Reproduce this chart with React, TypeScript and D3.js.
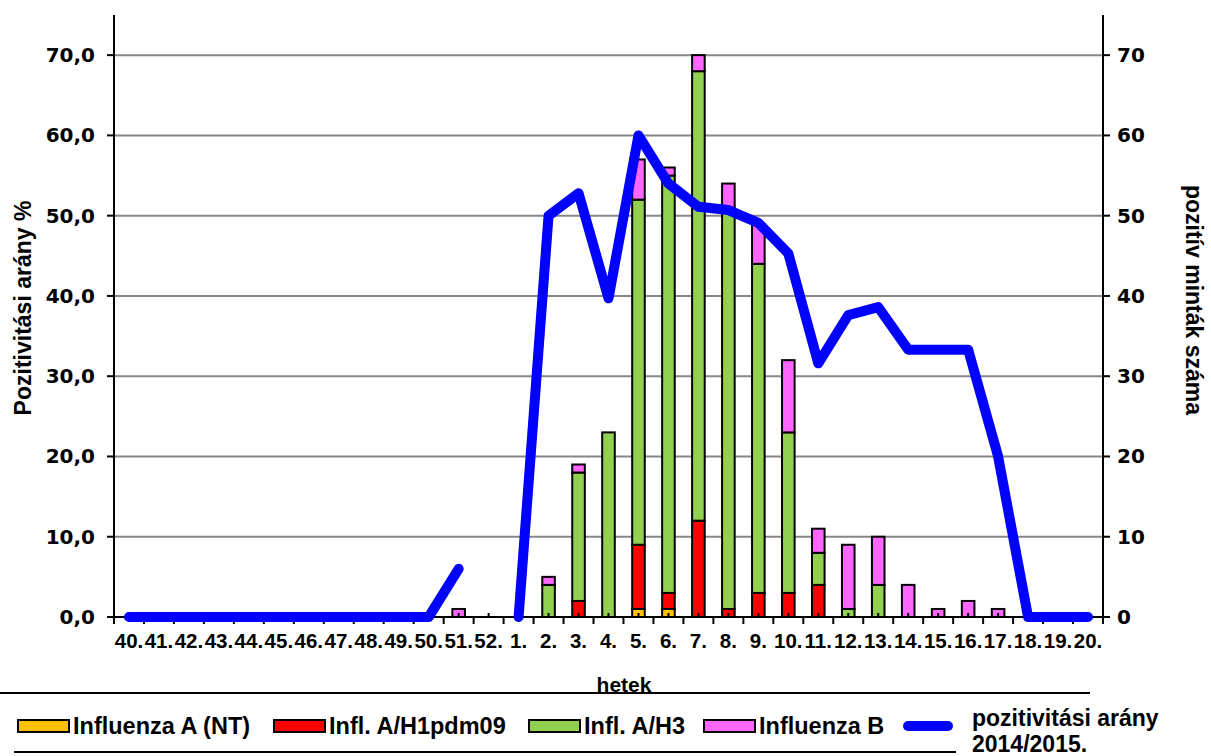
import React from 'react';
import * as d3 from 'd3';

// hetek (40. hét 2014 – 20. hét 2015)
const weeks = [
  '40.', '41.', '42.', '43.', '44.', '45.', '46.', '47.', '48.', '49.', '50.', '51.', '52.',
  '1.', '2.', '3.', '4.', '5.', '6.', '7.', '8.', '9.', '10.',
  '11.', '12.', '13.', '14.', '15.', '16.', '17.', '18.', '19.', '20.',
];

// pozitív minták száma (jobb tengely)
const influenzaNT = [0, 0, 0, 0, 0, 0, 0, 0, 0, 0, 0, 0, 0, 0, 0, 0, 0, 1, 1, 0, 0, 0, 0, 0, 0, 0, 0, 0, 0, 0, 0, 0, 0];
const h1pdm09 = [0, 0, 0, 0, 0, 0, 0, 0, 0, 0, 0, 0, 0, 0, 0, 2, 0, 8, 2, 12, 1, 3, 3, 4, 0, 0, 0, 0, 0, 0, 0, 0, 0];
const h3 = [0, 0, 0, 0, 0, 0, 0, 0, 0, 0, 0, 0, 0, 0, 4, 16, 23, 43, 52, 56, 50, 41, 20, 4, 1, 4, 0, 0, 0, 0, 0, 0, 0];
const influenzaB = [0, 0, 0, 0, 0, 0, 0, 0, 0, 0, 0, 1, 0, 0, 1, 1, 0, 5, 1, 2, 3, 5, 9, 3, 8, 6, 4, 1, 2, 1, 0, 0, 0];

// pozitivitási arány % (bal tengely), 52. hét hiányzik
const positivity: (number | null)[] = [
  0, 0, 0, 0, 0, 0, 0, 0, 0, 0, 0, 6, null,
  0, 50, 52.8, 39.7, 60, 54, 51.1, 50.7, 49.1, 45.3,
  31.6, 37.6, 38.6, 33.3, 33.3, 33.3, 20, 0, 0, 0,
];

const leftTicks = [0, 10, 20, 30, 40, 50, 60, 70];
const rightTicks = [0, 10, 20, 30, 40, 50, 60, 70];

const seriesKeys = ['nt', 'h1', 'h3', 'b'];
const seriesNames = ['Influenza A (NT)', 'Infl. A/H1pdm09', 'Infl. A/H3', 'Influenza B'];
const seriesColors = ['#FFC000', '#FF0000', '#92D050', '#FF66FF'];
const lineColor = '#0000FF';

const W = 1211;
const H = 756;
const plot = { left: 114, right: 1103, top: 15, bottom: 617 };
const font = '"Liberation Sans", Arial, sans-serif';
const tickFont = '"DejaVu Sans", Verdana, sans-serif';

export default function App() {
  const x = d3.scaleBand<string>().domain(weeks).range([plot.left, plot.right]).padding(0);
  const yLeft = d3.scaleLinear().domain([0, 75]).range([plot.bottom, plot.top]);
  const yRight = d3.scaleLinear().domain([0, 75]).range([plot.bottom, plot.top]);
  const barW = x.step() * 0.42;

  const rows = weeks.map((w, i) => ({
    week: w,
    nt: influenzaNT[i],
    h1: h1pdm09[i],
    h3: h3[i],
    b: influenzaB[i],
  }));
  const stacked = d3.stack<(typeof rows)[number]>().keys(seriesKeys)(rows);

  // hetek, amikor volt mintavétel (első és utolsó pozitív hét között)
  const totals = rows.map((r) => r.nt + r.h1 + r.h3 + r.b);
  const firstIdx = totals.findIndex((t) => t > 0);
  const lastIdx = totals.length - 1 - [...totals].reverse().findIndex((t) => t > 0);

  const line = d3
    .line<number | null>()
    .defined((d) => d !== null)
    .x((_, i) => (x(weeks[i]) as number) + x.bandwidth() / 2)
    .y((d) => yLeft(d as number));

  const fmtLeft = (d: number) => d.toFixed(1).replace('.', ',');

  // jelmagyarázat elemek helye
  const legendX = [18, 274, 529, 704];
  const legendY = 726;

  return (
    <svg width={W} height={H} style={{ position: 'absolute', left: 0, top: 0, background: '#fff' }}>
      {/* rácsvonalak */}
      {leftTicks.slice(1).map((t) => (
        <line key={t} x1={plot.left} x2={plot.right} y1={yLeft(t)} y2={yLeft(t)} stroke="#878787" strokeWidth={2} />
      ))}

      {/* tengelyek */}
      <line x1={plot.left} x2={plot.left} y1={plot.top} y2={plot.bottom + 1} stroke="#000" strokeWidth={2} />
      <line x1={plot.right} x2={plot.right} y1={plot.top} y2={plot.bottom + 1} stroke="#000" strokeWidth={2} />
      <line x1={plot.left} x2={plot.right} y1={plot.bottom} y2={plot.bottom} stroke="#000" strokeWidth={2} />
      {leftTicks.map((t) => (
        <g key={t}>
          <line x1={plot.left - 7} x2={plot.left} y1={yLeft(t)} y2={yLeft(t)} stroke="#000" strokeWidth={2} />
          <text
            x={plot.left - 19}
            y={yLeft(t)}
            textAnchor="end"
            dominantBaseline="central"
            fontFamily={tickFont}
            fontWeight="bold"
            fontSize={20}>
            {fmtLeft(t)}
          </text>
        </g>
      ))}
      {rightTicks.map((t) => (
        <g key={t}>
          <line x1={plot.right} x2={plot.right + 7} y1={yRight(t)} y2={yRight(t)} stroke="#000" strokeWidth={2} />
          <text
            x={plot.right + 14}
            y={yRight(t)}
            dominantBaseline="central"
            fontFamily={tickFont}
            fontWeight="bold"
            fontSize={20}>
            {t}
          </text>
        </g>
      ))}
      {d3.range(weeks.length + 1).map((i) => {
        const xx = plot.left + i * x.step();
        return <line key={i} x1={xx} x2={xx} y1={plot.bottom} y2={plot.bottom + 7} stroke="#000" strokeWidth={2} />;
      })}
      {weeks.map((w) => (
        <text
          key={w}
          x={(x(w) as number) + x.bandwidth() / 2}
          y={648}
          textAnchor="middle"
          fontFamily={font}
          fontWeight="bold"
          fontSize={20.5}>
          {w}
        </text>
      ))}

      {/* tengelyfeliratok */}
      <text
        transform={`translate(31, 308) rotate(-90)`}
        textAnchor="middle"
        fontFamily={font}
        fontWeight="bold"
        fontSize={23}>
        Pozitivitási arány %
      </text>
      <text
        transform={`translate(1186, 300) rotate(90)`}
        textAnchor="middle"
        fontFamily={font}
        fontWeight="bold"
        fontSize={23}>
        pozitív minták száma
      </text>

      {/* oszlopok */}
      {stacked.map((s, si) =>
        s.map((d, i) =>
          d[1] - d[0] > 0 ? (
            <rect
              key={`${si}-${i}`}
              x={(x(weeks[i]) as number) + (x.bandwidth() - barW) / 2}
              y={yRight(d[1])}
              width={barW}
              height={yRight(d[0]) - yRight(d[1])}
              fill={seriesColors[si]}
              stroke="#000"
              strokeWidth={2}
            />
          ) : null,
        ),
      )}
      {/* nulla értékű jelek a mintavételi heteken */}
      {weeks.map((w, i) =>
        i >= firstIdx && i <= lastIdx ? (
          <line
            key={w}
            x1={(x(w) as number) + x.bandwidth() / 2}
            x2={(x(w) as number) + x.bandwidth() / 2}
            y1={plot.bottom}
            y2={plot.bottom - 4}
            stroke="#000"
            strokeWidth={2}
          />
        ) : null,
      )}

      {/* pozitivitási arány vonal */}
      <path
        d={line(positivity) as string}
        fill="none"
        stroke={lineColor}
        strokeWidth={10}
        strokeLinecap="round"
        strokeLinejoin="round"
      />

      {/* x tengely cím */}
      <text x={624} y={692} textAnchor="middle" fontFamily={font} fontWeight="bold" fontSize={21}>
        hetek
      </text>

      {/* jelmagyarázat */}
      <line x1={0} x2={1090} y1={693} y2={693} stroke="#000" strokeWidth={2} />
      <line x1={14} x2={956} y1={752} y2={752} stroke="#000" strokeWidth={2} />
      {seriesNames.map((name, i) => (
        <g key={name}>
          <rect x={legendX[i]} y={legendY - 6} width={51} height={12} fill={seriesColors[i]} stroke="#000" strokeWidth={2} />
          <text
            x={legendX[i] + 55}
            y={legendY + 8}
            fontFamily={font}
            fontWeight="bold"
            fontSize={23.5}>
            {name}
          </text>
        </g>
      ))}
      <line x1={908} x2={948} y1={legendY} y2={legendY} stroke={lineColor} strokeWidth={10} strokeLinecap="round" />
      <text x={972} y={726} fontFamily={font} fontWeight="bold" fontSize={23}>
        pozitivitási arány
      </text>
      <text x={972} y={752} fontFamily={font} fontWeight="bold" fontSize={23}>
        2014/2015.
      </text>
    </svg>
  );
}
